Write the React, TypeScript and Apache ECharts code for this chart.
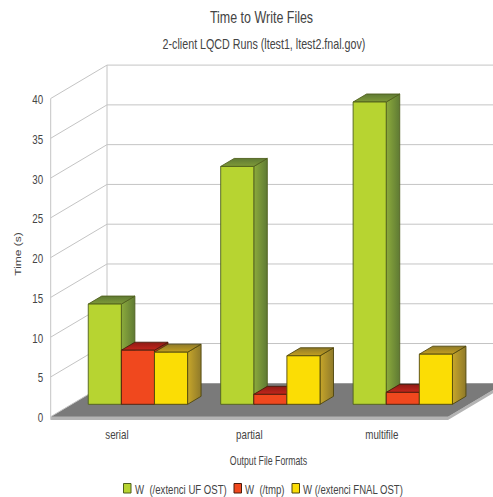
import React, { useEffect, useRef } from "react";
import * as echarts from "echarts";

const categories = ["serial", "partial", "multifile"];
const seriesNames = ["W  (/extenci UF OST)", "W  (/tmp)", "W (/extenci FNAL OST)"];
const ufOst = [12.6, 29.9, 38.0];
const tmp = [6.8, 1.25, 1.5];
const fnalOst = [6.55, 6.1, 6.3];
const gridTicks = [0, 5, 10, 15, 20, 25, 30, 35, 40];
const legendIconX = [123.5, 234, 292];
const legendTextX = [135, 245, 303];
const legendCondense = [0.74, 0.74, 0.735];

const faceColors = [
  { front: "#b7d431", edge: "#4f5f1c", sideA: "#8cab3c", sideB: "#5f7a34", topA: "#5f7a34", topB: "#7f9a38" },
  { front: "#f0481e", edge: "#4a1c0c", sideA: "#c8321c", sideB: "#8c1c14", topA: "#8e1a14", topB: "#c4261c" },
  { front: "#fbdd05", edge: "#4f460c", sideA: "#c7a62a", sideB: "#8f7a2a", topA: "#8f7a2a", topB: "#c4a020" },
];

// Depth of the plot box and the inset of the bars inside it, in pixels.
const BOX_DX = 56.3;
const BOX_DY = 33.4;
const BAR_INSET_X = 21;
const BAR_INSET_Y = 12.4;
const BAR_DX = 13.5;
const BAR_DY = 8;
const RIGHT_EDGE = 493;

const FONT = "'Liberation Sans', Arial, sans-serif";
const TEXT = "#444444";
// All labels are set in a condensed cut of the sans face.
const CONDENSE = 0.75;

const linear = (a: string, b: string, horizontal: boolean) =>
  new echarts.graphic.LinearGradient(0, 0, horizontal ? 1 : 0, horizontal ? 0 : 1, [
    { offset: 0, color: a },
    { offset: 1, color: b },
  ]);

const gridStroke = { stroke: "#c4c4c4", lineWidth: 1, fill: "none" };

const label = (text: string, x: number, y: number, fontSize: number, align: string, extra: object = {}) => ({
  type: "text",
  x,
  y,
  scaleX: CONDENSE,
  silent: true,
  style: { text, x: 0, y: 0, align, verticalAlign: "middle", fontFamily: FONT, fontSize, fill: TEXT },
  ...extra,
});

// The floor slab with its lighter front lip.
function renderFloor(_params: any, api: any) {
  const left = api.coord([0, 0]);
  const size = api.size([1, 0]);
  const x0 = left[0] - size[0] / 2;
  const y0 = left[1];
  const x1 = x0 + size[0] * 3;
  const lip = 3.2;
  return {
    type: "group",
    children: [
      {
        type: "polygon",
        shape: { points: [[x0, y0], [x1, y0], [x1 + BOX_DX, y0 - BOX_DY], [x1 + BOX_DX, y0 - BOX_DY + lip], [x1, y0 + lip], [x0, y0 + lip]] },
        style: { fill: "#b4b4b4" },
      },
      {
        type: "polygon",
        shape: { points: [[x0, y0], [x1, y0], [x1 + BOX_DX, y0 - BOX_DY], [x0 + BOX_DX, y0 - BOX_DY]] },
        style: { fill: "#7a7a7a" },
      },
    ],
  };
}

// One horizontal level of the box: along the left wall, across the back wall, plus its tick label.
function renderLevel(_params: any, api: any) {
  const value = api.value(0);
  const origin = api.coord([0, value]);
  const x0 = origin[0] - api.size([1, 0])[0] / 2;
  const y0 = origin[1];
  const isFloor = value === 0;
  return {
    type: "group",
    children: [
      {
        type: "polyline",
        shape: {
          points: isFloor
            ? [[x0, y0], [x0 + BOX_DX, y0 - BOX_DY]]
            : [[x0, y0], [x0 + BOX_DX, y0 - BOX_DY], [RIGHT_EDGE, y0 - BOX_DY]],
        },
        style: gridStroke,
      },
      label(String(value), x0 - 7.5, y0 + 1, 13, "right"),
    ],
  };
}

// Vertical edges of the left wall, spanning the whole value range.
function renderWallEdges(_params: any, api: any) {
  const bottom = api.coord([0, 0]);
  const top = api.coord([0, 40]);
  const x0 = bottom[0] - api.size([1, 0])[0] / 2;
  return {
    type: "group",
    children: [
      { type: "line", shape: { x1: x0, y1: bottom[1] + 3, x2: x0, y2: top[1] }, style: gridStroke },
      { type: "line", shape: { x1: x0 + BOX_DX, y1: bottom[1] - BOX_DY, x2: x0 + BOX_DX, y2: top[1] - BOX_DY }, style: gridStroke },
    ],
  };
}

function renderCategoryLabel(_params: any, api: any) {
  const k = api.value(0);
  const p = api.coord([k, 0]);
  return label(categories[k], p[0], p[1] + 17.5, 13, "center");
}

const makeBarRenderer = (seriesIndex: number) => (_params: any, api: any) => {
  const cat = api.value(0);
  const val = api.value(1);
  const base = api.coord([cat, 0]);
  const top = api.coord([cat, val]);
  const band = api.size([1, 0])[0];
  const w = band * 0.25;
  const x0 = base[0] - w * 1.5 + w * seriesIndex + BAR_INSET_X;
  const x1 = x0 + w;
  const yb = base[1] - BAR_INSET_Y;
  const yt = top[1] - BAR_INSET_Y;
  const c = faceColors[seriesIndex];
  const edge = { stroke: c.edge, lineWidth: 0.9, lineJoin: "round" };
  return {
    type: "group",
    children: [
      {
        type: "polygon",
        shape: { points: [[x1, yb], [x1 + BAR_DX, yb - BAR_DY], [x1 + BAR_DX, yt - BAR_DY], [x1, yt]] },
        style: { fill: linear(c.sideA, c.sideB, true), ...edge },
      },
      {
        type: "polygon",
        shape: { points: [[x0, yt], [x1, yt], [x1 + BAR_DX, yt - BAR_DY], [x0 + BAR_DX, yt - BAR_DY]] },
        style: { fill: linear(c.topA, c.topB, false), ...edge },
      },
      {
        type: "rect",
        shape: { x: x0, y: yt, width: w, height: yb - yt },
        style: { fill: c.front, ...edge },
      },
    ],
  };
};

export default function App() {
  const ref = useRef<HTMLDivElement>(null);
  useEffect(() => {
    const chart = echarts.init(ref.current!, undefined, { renderer: "svg" });
    const values = [ufOst, tmp, fnalOst];
    chart.setOption({
      animation: false,
      backgroundColor: "#ffffff",
      graphic: [
        label("Time to Write Files", 261.5, 17, 16, "center", { scaleX: 0.78 }),
        label("2-client LQCD Runs (ltest1, ltest2.fnal.gov)", 264, 45, 14, "center", { scaleX: 0.765 }),
        label("Output File Formats", 268.5, 460, 12, "center", { scaleX: 0.73 }),
        label("Time (s)", 18, 254, 12, "center", { scaleX: 1, scaleY: CONDENSE, rotation: Math.PI / 2 }),
        ...seriesNames.flatMap((name, i) => [
          {
            type: "rect",
            silent: true,
            shape: { x: legendIconX[i], y: 483.5, width: 7.5, height: 9.5 },
            style: { fill: faceColors[i].front, stroke: faceColors[i].edge, lineWidth: 1 },
          },
          label(name, legendTextX[i], 489, 13, "left", { scaleX: legendCondense[i] }),
        ]),
      ],
      grid: { left: 50.7, top: 98.5, width: 397.3, height: 318.2, containLabel: false },
      xAxis: {
        type: "category",
        data: categories,
        axisLine: { show: false },
        axisTick: { show: false },
        axisLabel: { show: false },
      },
      yAxis: {
        type: "value",
        min: 0,
        max: 40,
        interval: 5,
        axisLine: { show: false },
        axisTick: { show: false },
        splitLine: { show: false },
        axisLabel: { show: false },
      },
      series: [
        { type: "custom", silent: true, z: 1, renderItem: renderFloor, clip: false, data: [[0]] },
        { type: "custom", silent: true, z: 2, renderItem: renderLevel, clip: false, data: gridTicks.map((t) => [t]), encode: { y: 0 } },
        { type: "custom", silent: true, z: 2, renderItem: renderWallEdges, clip: false, data: [[0]] },
        { type: "custom", silent: true, z: 2, renderItem: renderCategoryLabel, clip: false, data: categories.map((_, k) => [k]), encode: { x: 0 } },
        ...seriesNames.map((name, i) => ({
          type: "custom",
          name,
          z: 3 + i,
          clip: false,
          renderItem: makeBarRenderer(i),
          itemStyle: { color: faceColors[i].front },
          encode: { x: 0, y: 1 },
          data: categories.map((_, k) => [k, values[i][k]]),
        })),
      ],
    });
    return () => chart.dispose();
  }, []);
  return <div ref={ref} style={{ width: 493, height: 497, position: "absolute", left: 0, top: 0 }} />;
}
